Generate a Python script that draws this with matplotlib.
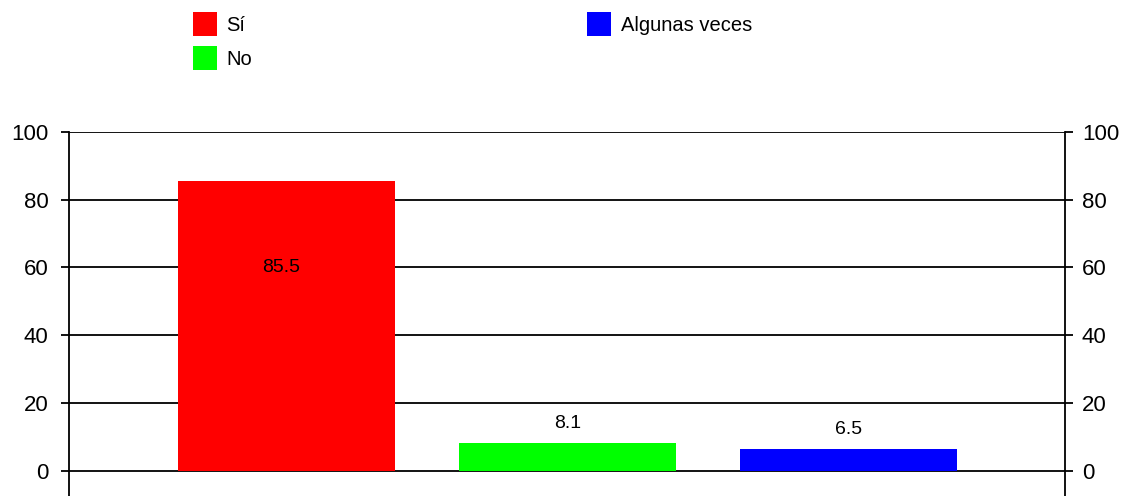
import matplotlib
matplotlib.use("Agg")
import matplotlib.pyplot as plt

categories = ["Sí", "No", "Algunas veces"]
values = [85.5, 8.1, 6.5]
colors = ["#FF0000", "#00FF00", "#0000FF"]
yticks = [0, 20, 40, 60, 80, 100]

plt.rcParams["font.family"] = ["Liberation Sans", "DejaVu Sans"]

W, H = 1127, 496
fig = plt.figure(figsize=(W / 100, H / 100), dpi=100)
ax = fig.add_axes([69.3 / W, 0, (1065.3 - 69.3) / W, (496 - 131.7) / H])

x = list(range(len(categories)))
bars = ax.bar(x, values, width=0.772, color=colors, zorder=3)

ax.set_xlim(-0.772, len(categories) - 1 + 0.772)
ax.set_ylim(-7.46, 100)
ax.set_yticks(yticks)
ax.set_xticks([])

for yv in yticks:
    ax.axhline(yv, color="black", lw=1.3, zorder=2)

for s in ["top", "bottom"]:
    ax.spines[s].set_visible(False)
for s in ["left", "right"]:
    ax.spines[s].set_color("black")
    ax.spines[s].set_linewidth(1.3)

ax.tick_params(axis="y", which="both", left=True, right=False, labelleft=True,
               labelright=False, direction="out", length=6, width=1.3,
               labelsize=16, colors="black", pad=9)

ax2 = ax.twinx()
ax2.set_ylim(ax.get_ylim())
ax2.set_yticks(yticks)
for s in ["top", "bottom", "left", "right"]:
    ax2.spines[s].set_visible(False)
ax2.tick_params(axis="y", right=True, labelright=True, direction="out", length=6,
                width=1.3, labelsize=16, colors="black", pad=6)

for b, v in zip(bars, values):
    cx = b.get_x() + b.get_width() / 2
    if v > 30:
        ax.text(cx - 0.02, v * 0.7, f"{v}", ha="center", va="center", fontsize=14, zorder=4)
    else:
        ax.annotate(f"{v}", (cx, v), xytext=(0, 14), textcoords="offset points",
                    ha="center", va="center", fontsize=14, zorder=4)

fig.legend(handles=list(bars), labels=categories, ncol=2, loc="upper left",
           bbox_to_anchor=(193 / W, 1 - 12 / H), frameon=False, fontsize=14.5,
           handlelength=1.2, handleheight=1.45, handletextpad=0.45,
           labelspacing=0.5, columnspacing=16.65, borderpad=0, borderaxespad=0)

fig.savefig("out.png", dpi=100)
